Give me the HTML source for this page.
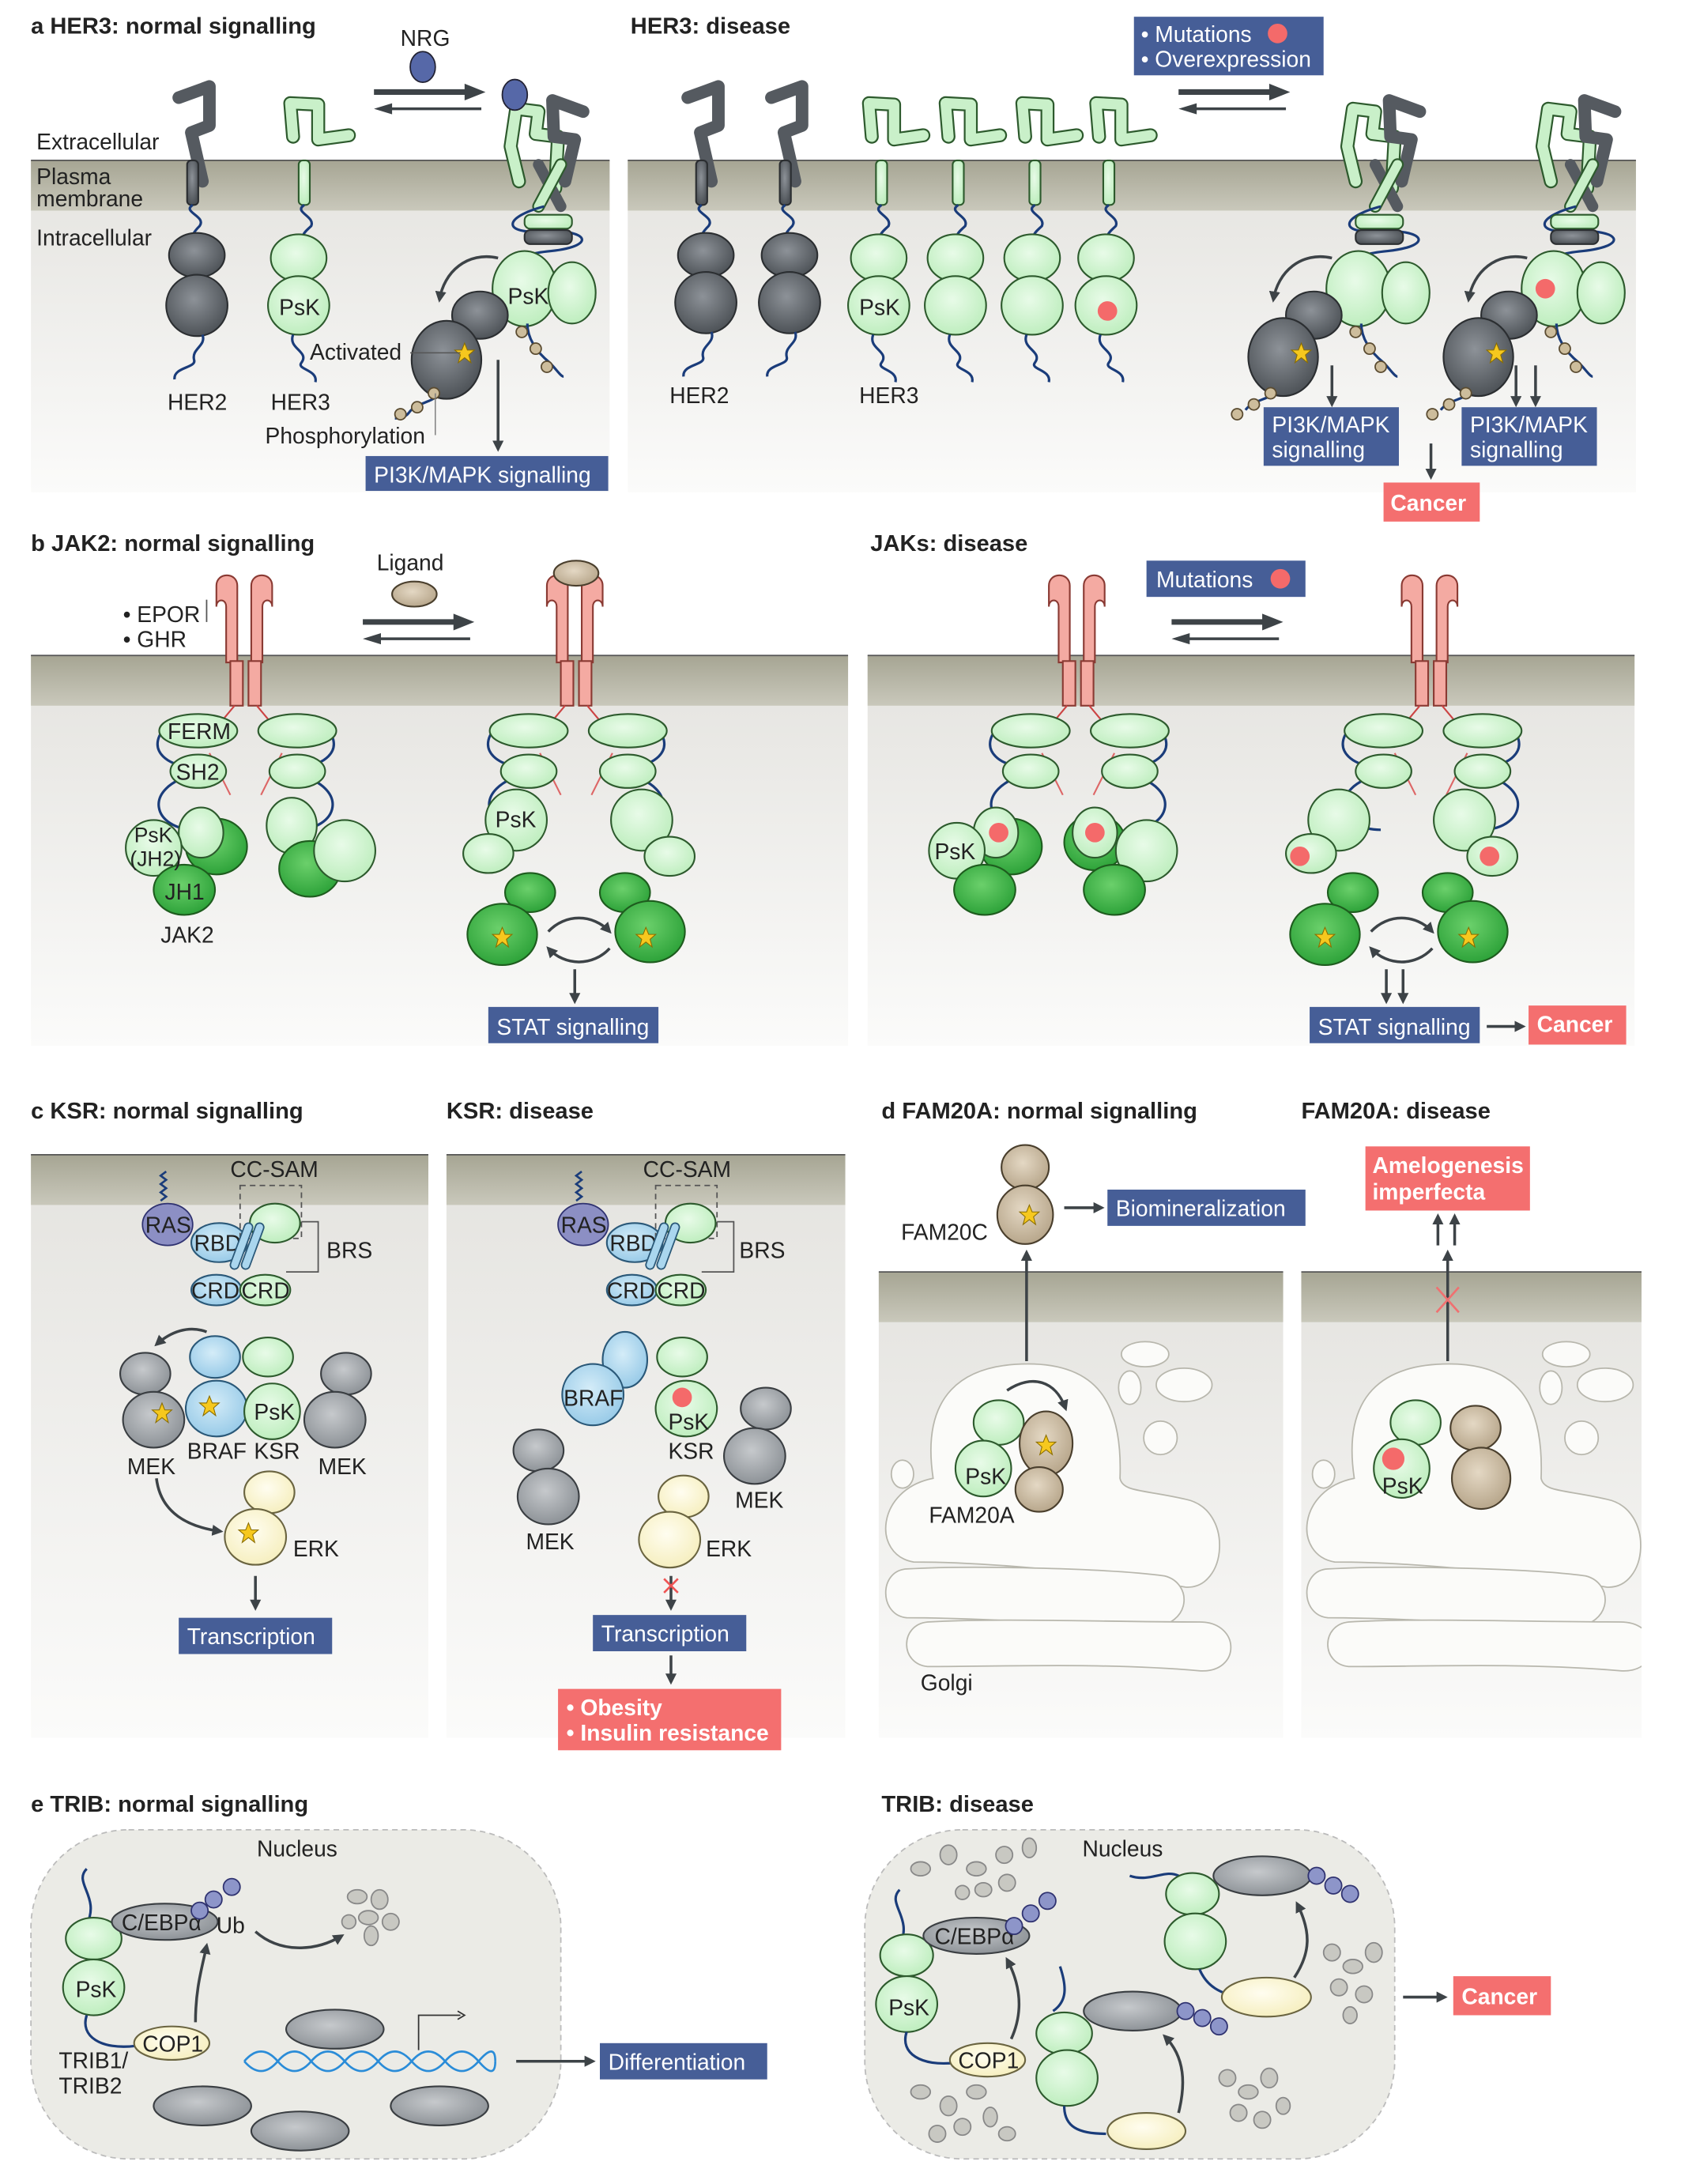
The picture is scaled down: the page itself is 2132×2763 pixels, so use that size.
<!DOCTYPE html>
<html><head><meta charset="utf-8"><style>
html,body{margin:0;padding:0;background:#fff}
svg{display:block}
text{font-family:"Liberation Sans",sans-serif;font-size:16px;fill:#222}
.t{font-weight:bold;font-size:16.5px}
.w{fill:#fff}
.wb{fill:#fff;font-weight:bold}
</style></head><body>
<svg width="2132" height="2763" viewBox="0 0 1208 1566" xmlns="http://www.w3.org/2000/svg">
<defs>
<linearGradient id="mem" x1="0" y1="0" x2="0" y2="1"><stop offset="0" stop-color="#a6a593"/><stop offset="1" stop-color="#c9c8bb"/></linearGradient>
<linearGradient id="cyt" x1="0" y1="0" x2="0" y2="1"><stop offset="0" stop-color="#e4e3df"/><stop offset="1" stop-color="#fbfbfa"/></linearGradient>
<radialGradient id="gg" cx=".45" cy=".4" r=".6"><stop offset="0" stop-color="#e8fbe8"/><stop offset="1" stop-color="#bfeebf"/></radialGradient>
<radialGradient id="dg" cx=".45" cy=".4" r=".6"><stop offset="0" stop-color="#8d9298"/><stop offset="1" stop-color="#4e5358"/></radialGradient>
<radialGradient id="dk" cx=".45" cy=".4" r=".6"><stop offset="0" stop-color="#6bd06b"/><stop offset="1" stop-color="#2ea33a"/></radialGradient>
<radialGradient id="bl" cx=".45" cy=".4" r=".6"><stop offset="0" stop-color="#d4ecf8"/><stop offset="1" stop-color="#99cbe8"/></radialGradient>
<radialGradient id="gy" cx=".45" cy=".4" r=".6"><stop offset="0" stop-color="#c6c9cc"/><stop offset="1" stop-color="#8e9398"/></radialGradient>
<radialGradient id="tn" cx=".45" cy=".4" r=".6"><stop offset="0" stop-color="#e4d8c4"/><stop offset="1" stop-color="#b8a78c"/></radialGradient>
<radialGradient id="yl" cx=".45" cy=".4" r=".6"><stop offset="0" stop-color="#fffdf0"/><stop offset="1" stop-color="#f6efc0"/></radialGradient>
<marker id="ar" markerWidth="8" markerHeight="8" refX="6" refY="4" orient="auto" markerUnits="userSpaceOnUse"><path d="M0,0 L8,4 L0,8 z" fill="#3d4347"/></marker>
<clipPath id="cd"><rect x="933" y="912" width="244" height="334"/></clipPath>
<g id="star"><polygon points="0,-7 2,-2 7,-2 3,1.5 4.5,7 0,3.5 -4.5,7 -3,1.5 -7,-2 -2,-2" fill="#f6c81e" stroke="#8a6d00" stroke-width=".6"/></g>
</defs>
<style>
.g{fill:url(#gg);stroke:#2d5a2d;stroke-width:1.2}
.d{fill:url(#dg);stroke:#2b2e31;stroke-width:1.2}
.k{fill:url(#dk);stroke:#1e5c1e;stroke-width:1.2}
.b{fill:url(#bl);stroke:#2a5878;stroke-width:1.2}
.y{fill:url(#gy);stroke:#3a3e42;stroke-width:1.2}
.n{fill:url(#tn);stroke:#4a3f2d;stroke-width:1.2}
.l{fill:url(#yl);stroke:#6a6440;stroke-width:1.2}
.p{fill:#f4aaa2;stroke:#8a3a33;stroke-width:1.2}
.ln{fill:none;stroke:#1a3c7a;stroke-width:1.8}
.a{stroke:#3d4347;stroke-width:2;fill:none;marker-end:url(#ar)}
.bx{fill:#465e97}
.rx{fill:#f46f6f}
.rd{fill:#f46a6a}
.ves{fill:#fbfbf9;stroke:#b8b7ad;stroke-width:1}
</style>

<!-- ===== PANEL A ===== -->
<text x="22" y="24" class="t">a  HER3: normal signalling</text>
<text x="452" y="24" class="t">HER3: disease</text>
<rect x="22" y="115" width="415" height="238" fill="url(#cyt)"/>
<rect x="22" y="115" width="415" height="36" fill="url(#mem)"/>
<line x1="22" y1="115" x2="437" y2="115" stroke="#555" stroke-width="1"/>
<rect x="450" y="115" width="723" height="238" fill="url(#cyt)"/>
<rect x="450" y="115" width="723" height="36" fill="url(#mem)"/>
<line x1="450" y1="115" x2="1173" y2="115" stroke="#555"/>
<text x="26" y="107">Extracellular</text>
<text x="26" y="132">Plasma</text><text x="26" y="148">membrane</text>
<text x="26" y="176">Intracellular</text>
<!-- HER2 -->
<path d="M128,70 L150,62 L150,90 L137,95 L145,130" stroke="#555a60" stroke-width="9" fill="none" stroke-linecap="round" stroke-linejoin="round"/>
<rect x="134" y="115" width="8" height="32" rx="3" class="d"/>
<path class="ln" d="M138,147 c-8,5 10,8 5,15 c-6,6 -8,10 2,12"/>
<ellipse cx="141" cy="183" rx="20" ry="16" class="d"/>
<ellipse cx="141" cy="219" rx="22" ry="22" class="d"/>
<path class="ln" d="M145,240 c3,8 -8,10 -6,18 c2,6 -15,5 -14,14"/>
<text x="120" y="294">HER2</text>
<!-- HER3 -->
<path d="M210,98 L208,74 L228,75 L228,100 L250,97" stroke="#2d5a2d" stroke-width="10" fill="none" stroke-linejoin="round" stroke-linecap="round"/>
<path d="M210,98 L208,74 L228,75 L228,100 L250,97" stroke="#c9f0c9" stroke-width="7.5" fill="none" stroke-linejoin="round" stroke-linecap="round"/>
<rect x="214" y="115" width="8" height="32" rx="3" class="g"/>
<path class="ln" d="M218,147 c-8,5 8,8 5,15 c-5,5 -9,7 -2,12"/>
<ellipse cx="214" cy="185" rx="20" ry="17" class="g"/>
<ellipse cx="214" cy="219" rx="22" ry="21" class="g"/>
<text x="200" y="226">PsK</text>
<path class="ln" d="M210,240 c-4,10 12,12 6,20 c-4,5 12,5 10,14"/>
<text x="194" y="294">HER3</text>
<!-- NRG & arrows -->
<text x="287" y="33">NRG</text>
<ellipse cx="303" cy="48" rx="9" ry="11" fill="#5668a8" stroke="#223"/>
<line x1="268" y1="66" x2="335" y2="66" stroke="#3d4347" stroke-width="4"/><path d="M333,60 L348,66 L333,72z" fill="#3d4347"/>
<line x1="345" y1="78" x2="280" y2="78" stroke="#3d4347" stroke-width="2"/><path d="M281,74 L268,78 L281,82z" fill="#3d4347"/>
<!-- dimer active -->
<g>
<path d="M372,130 L366,105 L370,78 L386,80 L384,96 L400,98 L398,135" stroke="#2d5a2d" stroke-width="10" fill="none" stroke-linejoin="round" stroke-linecap="round"/>
<path d="M372,130 L366,105 L370,78 L386,80 L384,96 L400,98 L398,135" stroke="#c9f0c9" stroke-width="7.5" fill="none" stroke-linejoin="round" stroke-linecap="round"/>
<path d="M405,130 L412,100 L397,98 L396,72 L418,80" stroke="#555a60" stroke-width="9" fill="none" stroke-linecap="round" stroke-linejoin="round"/>
<ellipse cx="369" cy="68" rx="9" ry="11" fill="#5668a8" stroke="#223"/>
<path d="M386,118 L402,148" stroke="#555a60" stroke-width="8" stroke-linecap="round"/>
<path d="M402,118 L386,148" stroke="#2d5a2d" stroke-width="9" stroke-linecap="round"/><path d="M402,118 L386,148" stroke="#c9f0c9" stroke-width="6.5" stroke-linecap="round"/>
<path class="ln" d="M390,148 c-30,8 -30,20 0,18 c30,-2 40,10 5,14 c-30,3 -30,10 10,18"/>
<rect x="376" y="154" width="34" height="10" rx="4" class="g"/>
<rect x="376" y="165" width="34" height="10" rx="4" class="d"/>
<ellipse cx="376" cy="207" rx="23" ry="27" class="g"/>
<ellipse cx="410" cy="210" rx="17" ry="22" class="g"/>
<text x="364" y="218">PsK</text>
<ellipse cx="344" cy="226" rx="20" ry="17" class="d"/>
<ellipse cx="320" cy="258" rx="25" ry="28" class="d"/>
<use href="#star" x="333" y="253"/>
<path class="a" d="M357,185 C335,180 318,195 315,215"/>
<path class="ln" d="M378,232 c0,10 6,20 16,28 c5,5 8,10 10,10"/>
<circle cx="374" cy="238" r="4" fill="#cdbd9c" stroke="#5a4b30"/><circle cx="384" cy="250" r="4" fill="#cdbd9c" stroke="#5a4b30"/><circle cx="392" cy="263" r="4" fill="#cdbd9c" stroke="#5a4b30"/>
<path class="ln" d="M313,284 c-5,5 -15,5 -20,12 c-3,4 -8,4 -10,4"/>
<circle cx="311" cy="282" r="4" fill="#cdbd9c" stroke="#5a4b30"/><circle cx="299" cy="292" r="4" fill="#cdbd9c" stroke="#5a4b30"/><circle cx="287" cy="297" r="4" fill="#cdbd9c" stroke="#5a4b30"/>
</g>
<text x="222" y="258">Activated</text><line x1="294" y1="253" x2="330" y2="253" stroke="#555" stroke-width=".8"/>
<text x="190" y="318">Phosphorylation</text><line x1="312" y1="282" x2="312" y2="312" stroke="#777" stroke-width=".8"/>
<path class="a" d="M357,258 L357,322"/>
<rect x="262" y="327" width="174" height="25" class="bx"/><text x="268" y="346" class="w">PI3K/MAPK signalling</text>
<!-- Disease HER3 -->
<rect x="813" y="12" width="136" height="42" class="bx"/>
<text x="818" y="30" class="w">• Mutations</text><circle cx="916" cy="24" r="7" class="rd"/>
<text x="818" y="48" class="w">• Overexpression</text>
<line x1="845" y1="66" x2="912" y2="66" stroke="#3d4347" stroke-width="4"/><path d="M910,60 L925,66 L910,72z" fill="#3d4347"/>
<line x1="922" y1="78" x2="857" y2="78" stroke="#3d4347" stroke-width="2"/><path d="M858,74 L845,78 L858,82z" fill="#3d4347"/>
<g id="h2d">
<path d="M493,70 L515,62 L515,90 L502,95 L510,130" stroke="#555a60" stroke-width="9" fill="none" stroke-linecap="round" stroke-linejoin="round"/>
<rect x="499" y="115" width="8" height="32" rx="3" class="d"/>
<path class="ln" d="M503,147 c-8,5 10,8 5,15 c-6,6 -8,10 2,12"/>
<ellipse cx="506" cy="183" rx="20" ry="16" class="d"/>
<ellipse cx="506" cy="217" rx="22" ry="22" class="d"/>
<path class="ln" d="M510,238 c3,8 -8,10 -6,18 c2,6 -15,5 -14,14"/>
</g>
<use href="#h2d" x="60"/>
<text x="480" y="289">HER2</text>
<g id="h3d">
<path d="M625,98 L623,74 L641,75 L641,100 L662,97" stroke="#2d5a2d" stroke-width="10" fill="none" stroke-linejoin="round" stroke-linecap="round"/>
<path d="M625,98 L623,74 L641,75 L641,100 L662,97" stroke="#c9f0c9" stroke-width="7.5" fill="none" stroke-linejoin="round" stroke-linecap="round"/>
<rect x="628" y="115" width="8" height="32" rx="3" class="g"/>
<path class="ln" d="M632,147 c-8,5 8,8 5,15 c-5,5 -9,7 -2,12"/>
<ellipse cx="630" cy="185" rx="20" ry="17" class="g"/>
<ellipse cx="630" cy="219" rx="22" ry="21" class="g"/>
<path class="ln" d="M626,240 c-4,10 12,12 6,20 c-4,5 12,5 10,14"/>
</g>
<text x="616" y="226">PsK</text>
<use href="#h3d" x="55"/><use href="#h3d" x="110"/><use href="#h3d" x="163"/>
<circle cx="794" cy="223" r="7" class="rd"/>
<text x="616" y="289">HER3</text>
<!-- two disease dimers -->
<g id="dd">
<path d="M972,130 L966,105 L970,78 L986,80 L984,96 L1000,98 L998,135" stroke="#2d5a2d" stroke-width="10" fill="none" stroke-linejoin="round" stroke-linecap="round"/>
<path d="M972,130 L966,105 L970,78 L986,80 L984,96 L1000,98 L998,135" stroke="#c9f0c9" stroke-width="7.5" fill="none" stroke-linejoin="round" stroke-linecap="round"/>
<path d="M1005,130 L1012,100 L997,98 L996,72 L1018,80" stroke="#555a60" stroke-width="9" fill="none" stroke-linecap="round" stroke-linejoin="round"/>
<path d="M986,118 L1002,148" stroke="#555a60" stroke-width="8" stroke-linecap="round"/>
<path d="M1002,118 L986,148" stroke="#2d5a2d" stroke-width="9" stroke-linecap="round"/><path d="M1002,118 L986,148" stroke="#c9f0c9" stroke-width="6.5" stroke-linecap="round"/>
<path class="ln" d="M990,148 c-30,8 -30,20 0,18 c30,-2 40,10 5,14 c-30,3 -30,10 10,18"/>
<rect x="972" y="154" width="34" height="10" rx="4" class="g"/>
<rect x="972" y="165" width="34" height="10" rx="4" class="d"/>
<ellipse cx="974" cy="207" rx="23" ry="27" class="g"/>
<ellipse cx="1008" cy="210" rx="17" ry="22" class="g"/>
<ellipse cx="942" cy="226" rx="20" ry="17" class="d"/>
<ellipse cx="920" cy="256" rx="25" ry="28" class="d"/>
<use href="#star" x="933" y="253"/>
<path class="a" d="M955,185 C933,180 916,195 913,215"/>
<path class="ln" d="M976,232 c0,10 6,20 16,28 c5,5 8,10 10,10"/>
<circle cx="972" cy="238" r="4" fill="#cdbd9c" stroke="#5a4b30"/><circle cx="982" cy="250" r="4" fill="#cdbd9c" stroke="#5a4b30"/><circle cx="990" cy="263" r="4" fill="#cdbd9c" stroke="#5a4b30"/>
<path class="ln" d="M913,282 c-5,5 -15,5 -20,12"/>
<circle cx="911" cy="282" r="4" fill="#cdbd9c" stroke="#5a4b30"/><circle cx="899" cy="290" r="4" fill="#cdbd9c" stroke="#5a4b30"/><circle cx="887" cy="297" r="4" fill="#cdbd9c" stroke="#5a4b30"/>
</g>
<use href="#dd" x="140"/>
<circle cx="1108" cy="207" r="7" class="rd"/>
<path class="a" d="M955,262 L955,290"/>
<path class="a" d="M1087,262 L1087,290"/><path class="a" d="M1101,262 L1101,290"/>
<rect x="906" y="292" width="97" height="42" class="bx"/><text x="912" y="310" class="w">PI3K/MAPK</text><text x="912" y="328" class="w">signalling</text>
<rect x="1048" y="292" width="97" height="42" class="bx"/><text x="1054" y="310" class="w">PI3K/MAPK</text><text x="1054" y="328" class="w">signalling</text>
<path class="a" d="M1026,318 L1026,342"/>
<rect x="992" y="346" width="69" height="28" class="rx"/><text x="997" y="366" class="wb">Cancer</text>

<!-- ===== PANEL B ===== -->
<text x="22" y="395" class="t">b  JAK2: normal signalling</text>
<text x="624" y="395" class="t">JAKs: disease</text>
<rect x="22" y="470" width="586" height="280" fill="url(#cyt)"/>
<rect x="22" y="470" width="586" height="36" fill="url(#mem)"/>
<line x1="22" y1="470" x2="608" y2="470" stroke="#555"/>
<rect x="622" y="470" width="550" height="280" fill="url(#cyt)"/>
<rect x="622" y="470" width="550" height="36" fill="url(#mem)"/>
<line x1="622" y1="470" x2="1172" y2="470" stroke="#555"/>
<text x="88" y="446">• EPOR</text><text x="88" y="464">• GHR</text>
<line x1="148" y1="430" x2="148" y2="446" stroke="#555"/>
<g id="rc">
<path class="p" d="M155,420 c0,-10 15,-10 15,0 l0,55 l-8,0 l0,-40 c0,-6 -7,-6 -7,0z"/>
<path class="p" d="M195,420 c0,-10 -15,-10 -15,0 l0,55 l8,0 l0,-40 c0,-6 7,-6 7,0z"/>
<rect x="165" y="474" width="9" height="32" class="p"/><rect x="178" y="474" width="9" height="32" class="p"/>
<path d="M168,506 l-10,12 M184,506 l10,12" stroke="#c44" stroke-width="1.2"/>
</g>
<g id="jk">
<path class="ln" d="M140,515 c-30,0 -40,30 -5,35 M140,555 c-40,10 -30,40 0,40"/>
<path class="ln" d="M212,515 c30,0 40,30 5,35 M212,555 c40,10 30,40 0,40"/>
<path d="M150,540 l15,30 M202,540 l-15,30" stroke="#d66" stroke-width="1.2"/>
<ellipse cx="142" cy="524" rx="28" ry="12" class="g"/>
<ellipse cx="213" cy="524" rx="28" ry="12" class="g"/>
<ellipse cx="142" cy="553" rx="20" ry="12" class="g"/>
<ellipse cx="213" cy="553" rx="20" ry="12" class="g"/>
</g>
<text x="120" y="530">FERM</text><text x="126" y="559">SH2</text>
<ellipse cx="155" cy="607" rx="22" ry="20" class="k"/>
<ellipse cx="144" cy="597" rx="16" ry="18" class="g"/>
<ellipse cx="110" cy="608" rx="20" ry="20" class="g"/>
<ellipse cx="132" cy="638" rx="22" ry="18" class="k"/>
<text x="96" y="604" style="font-size:15px">PsK</text><text x="93" y="621" style="font-size:15px">(JH2)</text>
<text x="118" y="645">JH1</text>
<ellipse cx="209" cy="592" rx="18" ry="20" class="g"/>
<ellipse cx="222" cy="623" rx="22" ry="20" class="k"/>
<ellipse cx="247" cy="610" rx="22" ry="22" class="g"/>
<text x="115" y="676">JAK2</text>
<text x="270" y="409">Ligand</text>
<ellipse cx="297" cy="426" rx="16" ry="9" class="n"/>
<line x1="260" y1="446" x2="327" y2="446" stroke="#3d4347" stroke-width="4"/><path d="M325,440 L340,446 L325,452z" fill="#3d4347"/>
<line x1="337" y1="458" x2="272" y2="458" stroke="#3d4347" stroke-width="2"/><path d="M273,454 L260,458 L273,462z" fill="#3d4347"/>
<use href="#rc" x="237"/>
<ellipse cx="413" cy="411" rx="16" ry="9" class="n"/>
<use href="#jk" x="237"/>
<g id="jka">
<ellipse cx="370" cy="588" rx="22" ry="22" class="g"/>
<ellipse cx="350" cy="612" rx="18" ry="14" class="g"/>
<ellipse cx="380" cy="640" rx="18" ry="14" class="k"/>
<ellipse cx="360" cy="670" rx="25" ry="22" class="k"/>
<use href="#star" x="360" y="672"/>
<ellipse cx="460" cy="588" rx="22" ry="22" class="g"/>
<ellipse cx="480" cy="614" rx="18" ry="14" class="g"/>
<ellipse cx="448" cy="640" rx="18" ry="14" class="k"/>
<ellipse cx="466" cy="668" rx="25" ry="22" class="k"/>
<use href="#star" x="463" y="672"/>
<path class="a" d="M393,668 C405,655 425,655 437,668"/>
<path class="a" d="M437,680 C425,693 405,693 393,680"/>
</g>
<text x="355" y="593">PsK</text>
<path class="a" d="M412,695 L412,718"/>
<rect x="350" y="722" width="122" height="26" class="bx"/><text x="356" y="742" class="w">STAT signalling</text>
<rect x="822" y="402" width="114" height="26" class="bx"/><text x="829" y="421" class="w">Mutations</text><circle cx="918" cy="415" r="7" class="rd"/>
<line x1="840" y1="446" x2="907" y2="446" stroke="#3d4347" stroke-width="4"/><path d="M905,440 L920,446 L905,452z" fill="#3d4347"/>
<line x1="917" y1="458" x2="852" y2="458" stroke="#3d4347" stroke-width="2"/><path d="M853,454 L840,458 L853,462z" fill="#3d4347"/>
<use href="#rc" x="597"/>
<use href="#jk" x="597"/>
<ellipse cx="725" cy="607" rx="22" ry="20" class="k"/>
<ellipse cx="714" cy="597" rx="16" ry="18" class="g"/>
<ellipse cx="686" cy="610" rx="20" ry="20" class="g"/>
<ellipse cx="706" cy="638" rx="22" ry="18" class="k"/>
<circle cx="716" cy="597" r="7" class="rd"/>
<text x="670" y="616">PsK</text>
<ellipse cx="785" cy="604" rx="22" ry="20" class="k"/>
<ellipse cx="785" cy="597" rx="16" ry="18" class="g"/>
<ellipse cx="822" cy="610" rx="22" ry="22" class="g"/>
<ellipse cx="799" cy="638" rx="22" ry="18" class="k"/>
<circle cx="785" cy="597" r="7" class="rd"/>
<use href="#rc" x="850"/>
<use href="#jk" x="850"/>
<use href="#jka" x="590"/>
<circle cx="932" cy="614" r="7" class="rd"/><circle cx="1068" cy="614" r="7" class="rd"/>
<path class="a" d="M994,695 L994,718"/><path class="a" d="M1006,695 L1006,718"/>
<rect x="939" y="722" width="122" height="26" class="bx"/><text x="945" y="742" class="w">STAT signalling</text>
<path class="a" d="M1066,736 L1092,736"/>
<rect x="1096" y="721" width="70" height="28" class="rx"/><text x="1102" y="740" class="wb">Cancer</text>

<!-- ===== PANEL C ===== -->
<text x="22" y="802" class="t">c  KSR: normal signalling</text>
<text x="320" y="802" class="t">KSR: disease</text>
<rect x="22" y="828" width="285" height="418" fill="url(#cyt)"/>
<rect x="22" y="828" width="285" height="36" fill="url(#mem)"/>
<line x1="22" y1="828" x2="307" y2="828" stroke="#555"/>
<rect x="320" y="828" width="286" height="418" fill="url(#cyt)"/>
<rect x="320" y="828" width="286" height="36" fill="url(#mem)"/>
<line x1="320" y1="828" x2="606" y2="828" stroke="#555"/>
<g id="ksrtop">
<path d="M119,840 l-4,3 4,3 -4,3 4,3 -4,3 4,3 -4,3" stroke="#1a3c7a" fill="none" stroke-width="1.5"/>
<ellipse cx="120" cy="878" rx="18" ry="15" fill="#8c8fc4" stroke="#2f3270"/>
<text x="104" y="884">RAS</text>
<ellipse cx="157" cy="891" rx="20" ry="14" class="b"/>
<text x="139" y="897">RBD</text>
<rect x="172" y="850" width="44" height="38" fill="none" stroke="#555" stroke-dasharray="4,3"/>
<ellipse cx="197" cy="877" rx="18" ry="14" class="g"/>
<path d="M178,880 L168,907 M186,880 L176,907" stroke="#2a5878" stroke-width="7" stroke-linecap="round"/>
<path d="M178,880 L168,907 M186,880 L176,907" stroke="#aad6ee" stroke-width="5" stroke-linecap="round"/>
<path d="M216,876 L228,876 L228,912 L205,912" fill="none" stroke="#555"/>
<ellipse cx="155" cy="925" rx="18" ry="11" class="b"/>
<ellipse cx="190" cy="925" rx="18" ry="11" class="g"/>
<text x="137" y="931">CRD</text><text x="173" y="931">CRD</text>
</g>
<text x="165" y="844">CC-SAM</text><text x="234" y="902">BRS</text>
<ellipse cx="154" cy="973" rx="18" ry="15" class="b"/>
<ellipse cx="192" cy="973" rx="18" ry="14" class="g"/>
<ellipse cx="104" cy="985" rx="18" ry="15" class="y"/>
<ellipse cx="110" cy="1018" rx="22" ry="20" class="y"/>
<ellipse cx="155" cy="1010" rx="22" ry="20" class="b"/>
<ellipse cx="195" cy="1012" rx="20" ry="20" class="g"/>
<ellipse cx="248" cy="985" rx="18" ry="15" class="y"/>
<ellipse cx="240" cy="1018" rx="22" ry="20" class="y"/>
<use href="#star" x="116" y="1013"/><use href="#star" x="150" y="1008"/>
<text x="182" y="1018">PsK</text>
<path class="a" d="M148,955 C135,950 122,955 112,964"/>
<text x="91" y="1057">MEK</text><text x="134" y="1046">BRAF</text><text x="182" y="1046">KSR</text><text x="228" y="1057">MEK</text>
<ellipse cx="193" cy="1070" rx="18" ry="15" class="l"/>
<ellipse cx="183" cy="1102" rx="22" ry="20" class="l"/>
<use href="#star" x="178" y="1099"/>
<text x="210" y="1116">ERK</text>
<path class="a" d="M112,1060 C115,1085 135,1095 158,1098"/>
<path class="a" d="M183,1130 L183,1153"/>
<rect x="128" y="1160" width="110" height="26" class="bx"/><text x="134" y="1179" class="w">Transcription</text>
<use href="#ksrtop" x="298"/>
<text x="461" y="844">CC-SAM</text><text x="530" y="902">BRS</text>
<ellipse cx="448" cy="975" rx="16" ry="20" class="b"/>
<ellipse cx="425" cy="1000" rx="22" ry="22" class="b"/>
<text x="404" y="1008">BRAF</text>
<ellipse cx="489" cy="973" rx="18" ry="14" class="g"/>
<ellipse cx="492" cy="1010" rx="22" ry="20" class="g"/>
<circle cx="489" cy="1002" r="7" class="rd"/>
<text x="479" y="1025">PsK</text><text x="479" y="1046">KSR</text>
<ellipse cx="549" cy="1010" rx="18" ry="15" class="y"/>
<ellipse cx="541" cy="1044" rx="22" ry="20" class="y"/>
<text x="527" y="1081">MEK</text>
<ellipse cx="386" cy="1040" rx="18" ry="15" class="y"/>
<ellipse cx="393" cy="1073" rx="22" ry="20" class="y"/>
<text x="377" y="1111">MEK</text>
<ellipse cx="490" cy="1073" rx="18" ry="15" class="l"/>
<ellipse cx="480" cy="1104" rx="22" ry="20" class="l"/>
<text x="506" y="1116">ERK</text>
<path class="a" d="M481,1130 L481,1153"/>
<path d="M476,1132 l10,10 M486,1132 l-10,10" stroke="#e55" stroke-width="1.5"/>
<rect x="425" y="1158" width="110" height="26" class="bx"/><text x="431" y="1177" class="w">Transcription</text>
<path class="a" d="M481,1187 L481,1206"/>
<rect x="400" y="1211" width="160" height="44" class="rx"/><text x="406" y="1230" class="wb">• Obesity</text><text x="406" y="1248" class="wb">• Insulin resistance</text>

<!-- ===== PANEL D ===== -->
<text x="632" y="802" class="t">d  FAM20A: normal signalling</text>
<text x="933" y="802" class="t">FAM20A: disease</text>
<rect x="630" y="912" width="290" height="334" fill="url(#cyt)"/>
<rect x="630" y="912" width="290" height="36" fill="url(#mem)"/>
<line x1="630" y1="912" x2="920" y2="912" stroke="#555"/>
<rect x="933" y="912" width="244" height="334" fill="url(#cyt)"/>
<rect x="933" y="912" width="244" height="36" fill="url(#mem)"/>
<line x1="933" y1="912" x2="1177" y2="912" stroke="#555"/>
<g id="golgi">
<path class="ves" d="M669,1060 C660,1000 690,978 737,978 C786,978 805,1005 803,1060 C805,1070 820,1068 850,1075 C885,1082 880,1140 850,1138 C800,1130 720,1120 655,1120 C625,1115 628,1068 669,1060z"/>
<path class="ves" d="M650,1125 C700,1122 800,1125 835,1130 C855,1135 855,1165 825,1167 C780,1165 700,1160 650,1160 C630,1158 630,1126 650,1125z"/>
<path class="ves" d="M665,1163 C720,1160 790,1163 860,1163 C890,1163 890,1200 860,1198 C790,1192 720,1195 665,1195 C645,1193 645,1165 665,1163z"/>
<ellipse cx="821" cy="971" rx="17" ry="9" class="ves"/>
<ellipse cx="810" cy="995" rx="8" ry="12" class="ves"/>
<ellipse cx="849" cy="993" rx="20" ry="12" class="ves"/>
<ellipse cx="832" cy="1031" rx="12" ry="12" class="ves"/>
<ellipse cx="647" cy="1057" rx="8" ry="10" class="ves"/>
</g>
<g clip-path="url(#cd)"><use href="#golgi" x="302"/></g>
<text x="660" y="1212">Golgi</text>
<ellipse cx="716" cy="1020" rx="18" ry="16" class="g"/>
<ellipse cx="705" cy="1053" rx="20" ry="20" class="g"/>
<ellipse cx="750" cy="1035" rx="19" ry="23" class="n"/>
<ellipse cx="745" cy="1068" rx="17" ry="16" class="n"/>
<use href="#star" x="750" y="1036"/>
<text x="692" y="1064">PsK</text><text x="666" y="1092">FAM20A</text>
<path class="a" d="M722,997 C740,985 757,990 764,1010"/>
<path class="a" d="M736,976 L736,898"/>
<ellipse cx="735" cy="837" rx="17" ry="16" class="n"/>
<ellipse cx="735" cy="871" rx="20" ry="21" class="n"/>
<use href="#star" x="738" y="871"/>
<text x="646" y="889">FAM20C</text>
<path class="a" d="M763,866 L790,866"/>
<rect x="794" y="853" width="142" height="26" class="bx"/><text x="800" y="872" class="w">Biomineralization</text>
<ellipse cx="1015" cy="1020" rx="18" ry="16" class="g"/>
<ellipse cx="1005" cy="1053" rx="20" ry="21" class="g"/>
<circle cx="999" cy="1046" r="8" class="rd"/>
<text x="991" y="1071">PsK</text>
<ellipse cx="1058" cy="1024" rx="18" ry="16" class="n"/>
<ellipse cx="1062" cy="1060" rx="21" ry="22" class="n"/>
<path class="a" d="M1038,976 L1038,898"/>
<path d="M1030,923 l16,18 M1046,923 l-16,18" stroke="#f07070" stroke-width="1.5"/>
<path class="a" d="M1031,893 L1031,872"/><path class="a" d="M1043,893 L1043,872"/>
<rect x="979" y="822" width="118" height="46" class="rx"/><text x="984" y="841" class="wb">Amelogenesis</text><text x="984" y="860" class="wb">imperfecta</text>

<!-- ===== PANEL E ===== -->
<text x="22" y="1299" class="t">e  TRIB: normal signalling</text>
<text x="632" y="1299" class="t">TRIB: disease</text>
<rect x="22" y="1312" width="380" height="236" rx="70" fill="#ebebe6" stroke="#bbb" stroke-dasharray="4,3"/>
<rect x="620" y="1312" width="380" height="236" rx="70" fill="#ebebe6" stroke="#bbb" stroke-dasharray="4,3"/>
<text x="184" y="1331">Nucleus</text>
<path class="ln" d="M62,1340 c-10,10 10,20 0,40"/>
<ellipse cx="67" cy="1390" rx="20" ry="15" class="g"/>
<ellipse cx="67" cy="1425" rx="22" ry="20" class="g"/>
<text x="54" y="1432">PsK</text>
<path class="ln" d="M62,1445 c-5,15 10,25 35,22"/>
<ellipse cx="123" cy="1465" rx="27" ry="12" class="l"/><text x="102" y="1471">COP1</text>
<text x="42" y="1483">TRIB1/</text><text x="42" y="1501">TRIB2</text>
<ellipse cx="118" cy="1378" rx="38" ry="13" class="y"/><text x="87" y="1384">C/EBPα</text>
<g fill="#8d95c9" stroke="#2f3270"><circle cx="143" cy="1370" r="6"/><circle cx="153" cy="1362" r="6"/><circle cx="166" cy="1353" r="6"/></g>
<text x="155" y="1386">Ub</text>
<path class="a" d="M140,1450 C140,1425 145,1410 148,1395"/>
<path class="a" d="M183,1385 C200,1400 225,1400 245,1388"/>
<g fill="#c8c8c2" stroke="#888"><ellipse cx="256" cy="1360" rx="7" ry="5"/><ellipse cx="272" cy="1362" rx="6" ry="7"/><ellipse cx="264" cy="1375" rx="7" ry="5"/><ellipse cx="280" cy="1378" rx="6" ry="6"/><ellipse cx="266" cy="1388" rx="5" ry="7"/><ellipse cx="250" cy="1378" rx="5" ry="5"/></g>
<ellipse cx="240" cy="1455" rx="35" ry="14" class="y"/>
<ellipse cx="145" cy="1510" rx="35" ry="14" class="y"/>
<ellipse cx="215" cy="1528" rx="35" ry="14" class="y"/>
<ellipse cx="315" cy="1510" rx="35" ry="14" class="y"/>
<path d="M175,1478 q12,-14 24,0 t24,0 t24,0 t24,0 t24,0 t24,0 t24,0 t12,0" stroke="#2a8cd8" fill="none" stroke-width="1.5"/>
<path d="M175,1478 q12,14 24,0 t24,0 t24,0 t24,0 t24,0 t24,0 t24,0 t12,0" stroke="#2a8cd8" fill="none" stroke-width="1.5"/>
<path d="M300,1470 L300,1445 L330,1445" stroke="#333" fill="none"/><path d="M328,1442 l5,3 -5,3" fill="none" stroke="#333"/>
<path class="a" d="M370,1478 L425,1478"/>
<rect x="430" y="1465" width="120" height="26" class="bx"/><text x="436" y="1484" class="w">Differentiation</text>
<text x="776" y="1331">Nucleus</text>
<g fill="#c8c8c2" stroke="#888">
<ellipse cx="660" cy="1340" rx="7" ry="5"/><ellipse cx="680" cy="1330" rx="6" ry="7"/><ellipse cx="700" cy="1340" rx="7" ry="5"/><ellipse cx="720" cy="1330" rx="6" ry="6"/><ellipse cx="738" cy="1325" rx="5" ry="7"/><ellipse cx="705" cy="1355" rx="6" ry="5"/><ellipse cx="722" cy="1350" rx="6" ry="6"/><ellipse cx="690" cy="1357" rx="5" ry="5"/>
<ellipse cx="660" cy="1500" rx="7" ry="5"/><ellipse cx="680" cy="1510" rx="6" ry="7"/><ellipse cx="700" cy="1500" rx="7" ry="5"/><ellipse cx="690" cy="1525" rx="6" ry="6"/><ellipse cx="710" cy="1518" rx="5" ry="7"/><ellipse cx="722" cy="1530" rx="6" ry="5"/><ellipse cx="672" cy="1530" rx="6" ry="6"/>
<ellipse cx="880" cy="1490" rx="6" ry="6"/><ellipse cx="895" cy="1500" rx="7" ry="5"/><ellipse cx="910" cy="1490" rx="6" ry="7"/><ellipse cx="888" cy="1515" rx="6" ry="6"/><ellipse cx="905" cy="1520" rx="6" ry="6"/><ellipse cx="920" cy="1510" rx="5" ry="6"/>
<ellipse cx="955" cy="1400" rx="6" ry="6"/><ellipse cx="970" cy="1410" rx="7" ry="5"/><ellipse cx="985" cy="1400" rx="6" ry="7"/><ellipse cx="960" cy="1425" rx="6" ry="6"/><ellipse cx="978" cy="1430" rx="6" ry="6"/><ellipse cx="968" cy="1445" rx="5" ry="6"/>
</g>
<path class="ln" d="M645,1355 c-10,10 10,20 0,40"/>
<ellipse cx="650" cy="1402" rx="19" ry="15" class="g"/>
<ellipse cx="650" cy="1437" rx="22" ry="20" class="g"/>
<text x="637" y="1445">PsK</text>
<path class="ln" d="M650,1457 c-5,15 10,25 35,22"/>
<ellipse cx="708" cy="1477" rx="27" ry="12" class="l"/><text x="687" y="1483">COP1</text>
<ellipse cx="700" cy="1388" rx="38" ry="13" class="y"/><text x="670" y="1394">C/EBPα</text>
<g fill="#8d95c9" stroke="#2f3270"><circle cx="727" cy="1381" r="6"/><circle cx="739" cy="1372" r="6"/><circle cx="751" cy="1363" r="6"/></g>
<path class="a" d="M725,1462 C735,1440 730,1420 722,1405"/>
<path class="ln" d="M760,1410 c5,15 5,25 -5,32"/>
<ellipse cx="763" cy="1458" rx="20" ry="15" class="g"/>
<ellipse cx="765" cy="1490" rx="22" ry="20" class="g"/>
<path class="ln" d="M763,1510 c0,15 10,20 30,20"/>
<ellipse cx="822" cy="1528" rx="28" ry="13" class="l"/>
<ellipse cx="812" cy="1442" rx="35" ry="14" class="y"/>
<g fill="#8d95c9" stroke="#2f3270"><circle cx="850" cy="1442" r="6"/><circle cx="862" cy="1447" r="6"/><circle cx="874" cy="1453" r="6"/></g>
<path class="a" d="M845,1515 C850,1495 850,1475 835,1460"/>
<path class="ln" d="M810,1345 c15,5 25,-5 35,0 c8,5 2,10 5,15"/>
<ellipse cx="855" cy="1358" rx="19" ry="15" class="g"/>
<ellipse cx="857" cy="1392" rx="22" ry="20" class="g"/>
<path class="ln" d="M860,1412 c5,12 15,18 30,20"/>
<ellipse cx="908" cy="1432" rx="32" ry="14" class="l"/>
<ellipse cx="905" cy="1345" rx="35" ry="14" class="y"/>
<g fill="#8d95c9" stroke="#2f3270"><circle cx="944" cy="1345" r="6"/><circle cx="956" cy="1352" r="6"/><circle cx="968" cy="1358" r="6"/></g>
<path class="a" d="M928,1418 C940,1400 940,1385 930,1365"/>
<path class="a" d="M1006,1432 L1036,1432"/>
<rect x="1042" y="1417" width="70" height="28" class="rx"/><text x="1048" y="1437" class="wb">Cancer</text>
</svg>
</body></html>
